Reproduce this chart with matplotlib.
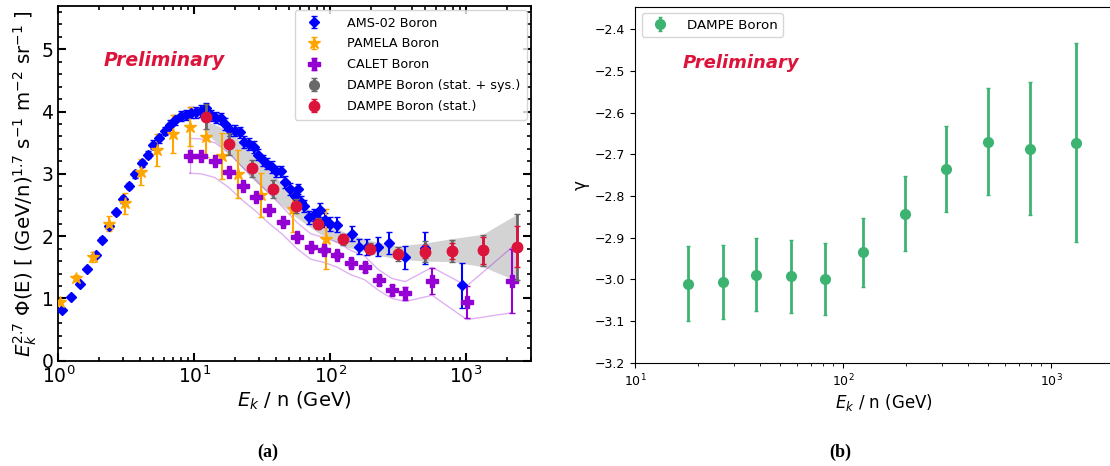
import numpy as np
import matplotlib
matplotlib.use("Agg")
import matplotlib.pyplot as plt
from matplotlib.ticker import MultipleLocator, LogLocator, NullFormatter

# ---------------- data: panel (a) ----------------
ams_E = [1.07, 1.25, 1.44, 1.63, 1.88, 2.11, 2.36, 2.65, 2.98, 3.32, 3.68, 4.10, 4.55, 5.01,
         5.52, 6.05, 6.62, 7.26, 7.94, 8.70, 9.47, 10.3, 11.3, 12.2, 13.3, 14.5, 15.7, 16.9,
         18.4, 20.0, 21.6, 23.4, 25.3, 27.4, 29.4, 31.8, 34.4, 37.2, 40.1, 43.6, 46.5, 50.5,
         55.0, 57.5, 60.5, 64.0, 70.0, 76.0, 84.0, 91.0, 100, 113, 144, 163, 188, 223, 272,
         354, 497, 937]
ams_F = [0.82, 1.03, 1.23, 1.47, 1.70, 1.94, 2.16, 2.38, 2.59, 2.80, 2.99, 3.17, 3.31, 3.47,
         3.57, 3.69, 3.79, 3.87, 3.93, 3.95, 3.98, 3.99, 4.01, 4.05, 3.94, 3.90, 3.89, 3.80,
         3.70, 3.69, 3.67, 3.51, 3.48, 3.43, 3.31, 3.22, 3.16, 3.11, 3.04, 3.04, 2.87, 2.76,
         2.65, 2.76, 2.55, 2.48, 2.30, 2.34, 2.42, 2.26, 2.20, 2.18, 2.04, 1.83, 1.83, 1.83,
         1.89, 1.66, 1.81, 1.21]
ams_err = [0.02, 0.02, 0.03, 0.03, 0.03, 0.04, 0.04, 0.04, 0.05, 0.05, 0.05, 0.06, 0.06, 0.07,
           0.07, 0.07, 0.08, 0.08, 0.08, 0.08, 0.09, 0.09, 0.09, 0.09, 0.09, 0.09, 0.09, 0.09,
           0.09, 0.09, 0.09, 0.09, 0.09, 0.09, 0.09, 0.09, 0.09, 0.09, 0.09, 0.09, 0.09, 0.10,
           0.10, 0.08, 0.10, 0.10, 0.10, 0.10, 0.11, 0.11, 0.11, 0.12, 0.12, 0.12, 0.13, 0.15,
           0.17, 0.18, 0.25, 0.36]

pam_E = [1.03, 1.35, 1.79, 2.35, 3.08, 4.08, 5.35, 7.03, 9.25, 12.1, 15.9, 20.9, 31.0, 53.6, 92.5]
pam_F = [0.94, 1.33, 1.67, 2.20, 2.53, 3.03, 3.38, 3.64, 3.76, 3.59, 3.29, 3.00, 2.66, 2.43, 1.96]
pam_err = [0.04, 0.05, 0.08, 0.12, 0.17, 0.21, 0.26, 0.31, 0.32, 0.32, 0.37, 0.39, 0.36, 0.36, 0.48]

cal_E = [9.25, 11.3, 14.2, 18.0, 22.8, 28.4, 35.7, 45.0, 56.9, 71.7, 89.7, 113, 142, 179, 227,
         285, 357, 562, 1012, 2171]
cal_F = [3.28, 3.28, 3.20, 3.03, 2.80, 2.63, 2.42, 2.22, 1.99, 1.82, 1.78, 1.70, 1.57, 1.50, 1.29,
         1.14, 1.08, 1.28, 0.94, 1.28]
cal_err = [0.03, 0.03, 0.03, 0.03, 0.03, 0.03, 0.03, 0.04, 0.04, 0.04, 0.05, 0.05, 0.06, 0.07, 0.07,
           0.08, 0.10, 0.21, 0.26, 0.52]
cal_hi = [3.57, 3.56, 3.50, 3.33, 3.10, 2.90, 2.68, 2.46, 2.22, 2.04, 1.98, 1.90, 1.77, 1.68, 1.46,
          1.32, 1.27, 1.50, 1.20, 1.82]
cal_lo = [3.01, 3.00, 2.94, 2.78, 2.57, 2.40, 2.20, 2.02, 1.80, 1.63, 1.58, 1.50, 1.38, 1.30, 1.13,
          1.00, 0.95, 1.05, 0.66, 0.77]

dam_E = [12.1, 17.9, 26.4, 37.9, 55.7, 81.8, 125, 197, 313, 498, 787, 1325, 2360]
dam_F = [3.92, 3.48, 3.09, 2.76, 2.48, 2.20, 1.95, 1.80, 1.71, 1.75, 1.76, 1.77, 1.83]
dam_stat = [0.03, 0.03, 0.03, 0.03, 0.03, 0.03, 0.04, 0.05, 0.06, 0.10, 0.13, 0.22, 0.33]
dam_tot = [0.20, 0.17, 0.14, 0.14, 0.11, 0.09, 0.09, 0.09, 0.11, 0.17, 0.18, 0.25, 0.53]
band_lo = [3.66, 3.33, 2.93, 2.62, 2.31, 2.05, 1.84, 1.72, 1.63, 1.60, 1.59, 1.51, 1.28]
band_hi = [3.85, 3.70, 3.33, 3.00, 2.61, 2.30, 2.07, 1.93, 1.84, 1.89, 1.96, 2.03, 2.35]

# ---------------- data: panel (b) ----------------
g_E = [17.9, 26.4, 38.0, 56.0, 82.0, 125, 198, 314, 498, 790, 1320]
g_val = [-3.011, -3.007, -2.989, -2.993, -2.999, -2.935, -2.843, -2.736, -2.671, -2.687, -2.672]
g_hi = [-2.919, -2.918, -2.900, -2.906, -2.914, -2.852, -2.752, -2.632, -2.542, -2.527, -2.434]
g_lo = [-3.101, -3.095, -3.077, -3.081, -3.085, -3.019, -2.933, -2.839, -2.798, -2.846, -2.910]

W, H = 1110, 466
fig = plt.figure(figsize=(W / 100, H / 100), dpi=100)

# ---------------- panel (a) ----------------
axL = fig.add_axes([58.3 / W, 1 - 360.7 / H, (531 - 58.3) / W, (360.7 - 5.7) / H])
axL.fill_between(dam_E, band_lo, band_hi, color="#d3d3d3", lw=0, zorder=1)
axL.plot(cal_E, cal_hi, color="darkviolet", alpha=0.3, lw=1, zorder=1.5)
axL.plot(cal_E, cal_lo, color="darkviolet", alpha=0.3, lw=1, zorder=1.5)
axL.plot([cal_E[0], cal_E[0]], [cal_lo[0], cal_hi[0]], color="darkviolet", alpha=0.3, lw=1, zorder=1.5)
axL.errorbar(ams_E, ams_F, yerr=ams_err, fmt="D", color="blue", ms=5.5, capsize=2, elinewidth=1.5,
             label="AMS-02 Boron", zorder=3)
axL.errorbar(pam_E, pam_F, yerr=pam_err, fmt="*", color="orange", ms=9, capsize=2, elinewidth=1.5,
             label="PAMELA Boron", zorder=3)
axL.errorbar(cal_E, cal_F, yerr=cal_err, fmt="P", color="darkviolet", ms=8, capsize=2, elinewidth=1.5,
             label="CALET Boron", zorder=3)
axL.errorbar(dam_E, dam_F, yerr=dam_tot, fmt="o", color="dimgray", ms=7, capsize=2, elinewidth=2,
             label="DAMPE Boron (stat. + sys.)", zorder=4)
axL.errorbar(dam_E, dam_F, yerr=dam_stat, fmt="o", color="crimson", ms=7.5, capsize=2, elinewidth=2,
             label="DAMPE Boron (stat.)", zorder=5)
axL.set_xscale("log")
axL.set_xlim(1, 3000)
axL.set_ylim(0, 5.7)
axL.yaxis.set_major_locator(MultipleLocator(1))
axL.yaxis.set_minor_locator(MultipleLocator(0.2))
axL.xaxis.set_minor_locator(LogLocator(base=10, subs=np.arange(2, 10)))
axL.xaxis.set_minor_formatter(NullFormatter())
axL.tick_params(which="both", direction="in", top=True, right=True, labelsize=13.5)
axL.tick_params(which="major", length=5.5, width=1.5)
axL.tick_params(which="minor", length=3, width=1.2)
for s in axL.spines.values():
    s.set_linewidth(1.3)
axL.set_xlabel("$E_k$ / n (GeV)", fontsize=14, labelpad=2)
axL.set_ylabel("$E_k^{2.7}$ Φ(E) [ (GeV/n)$^{1.7}$ s$^{-1}$ m$^{-2}$ sr$^{-1}$ ]", fontsize=14.2,
               labelpad=2)
axL.text(0.095, 0.845, "Preliminary", transform=axL.transAxes, color="crimson",
         fontsize=13.5, fontweight="bold", fontstyle="italic", va="center")
axL.legend(loc="upper right", fontsize=9.2, borderaxespad=0.35, handletextpad=1.6, labelspacing=0.62,
           borderpad=0.5)

# ---------------- panel (b) ----------------
axR = fig.add_axes([635 / W, 1 - 362.7 / H, 208 * np.log10(250) / W, (362.7 - 6.7) / H])
g_val_a = np.array(g_val)
yerr = [g_val_a - np.array(g_lo), np.array(g_hi) - g_val_a]
axR.errorbar(g_E, g_val, yerr=yerr, fmt="o", color="mediumseagreen", ms=7, capsize=1.5,
             elinewidth=2, label="DAMPE Boron")
axR.set_xscale("log")
axR.set_xlim(10, 2500)
axR.set_ylim(-3.2, -2.346)
axR.yaxis.set_major_locator(MultipleLocator(0.1))
axR.tick_params(labelsize=9)
axR.set_xlabel("$E_k$ / n (GeV)", fontsize=12, labelpad=2)
axR.set_ylabel("γ", fontsize=12)
axR.text(0.095, 0.843, "Preliminary", transform=axR.transAxes, color="crimson",
         fontsize=13, fontweight="bold", fontstyle="italic", va="center")
axR.legend(loc="upper left", fontsize=9.6, handletextpad=1.0)

fig.text(268 / W, 1 - 452 / H, "(a)", ha="center", va="center", fontsize=13,
         fontweight="bold", family="Liberation Serif")
fig.text(840 / W, 1 - 452 / H, "(b)", ha="center", va="center", fontsize=13,
         fontweight="bold", family="Liberation Serif")

fig.savefig("out.png", dpi=100)
